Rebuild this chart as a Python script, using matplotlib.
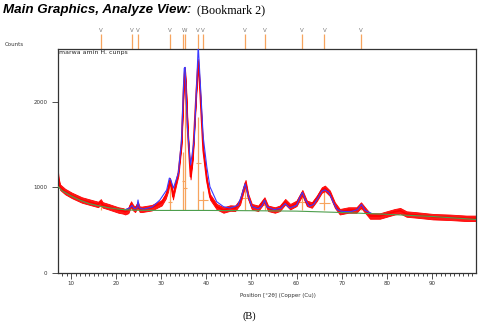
import matplotlib
matplotlib.use("Agg")
import matplotlib.pyplot as plt
import matplotlib.transforms as mtransforms
import numpy as np

scan_x = [7.1, 7.3, 7.6, 8.7, 10.2, 12.4, 14.6, 16.0, 16.6, 17.0, 18.3, 20.5, 21.5, 22.0,
          22.7, 23.3, 23.8, 24.2, 24.8, 25.2, 25.7, 27.9, 30.1, 31.0, 31.5, 31.9, 32.3,
          32.6, 33.1, 33.8, 34.5, 35.0, 35.25, 35.5, 35.9, 36.5, 37.0, 37.8, 38.2, 38.6,
          39.3, 40.1, 40.8, 42.3, 43.8, 45.3, 46.4, 47.5, 48.2, 48.7, 49.3, 50.1, 51.5,
          52.9, 53.7, 55.2, 56.3, 57.5, 58.6, 60.0, 61.3, 62.3, 63.4, 64.5, 65.6, 66.3,
          67.4, 68.5, 69.6, 71.5, 73.3, 74.3, 75.2, 76.3, 78.5, 80.0, 81.8, 83.0, 84.4,
          86.7, 90.3, 94.0, 97.7, 99.8]
scan_y = [1150, 1060, 1000, 950, 905, 852, 820, 800, 830, 795, 774, 735, 725, 715,
          730, 805, 760, 743, 800, 745, 743, 762, 820, 900, 980, 1080, 1000,
          890, 1010, 1167, 1510, 2200, 2370, 2150, 1630, 1124, 1355, 2135, 2466, 2135,
          1435, 1085, 890, 774, 735, 758, 755, 832, 968, 1054, 890, 774, 755,
          852, 755, 735, 755, 832, 774, 813, 937, 813, 793, 871, 968, 988,
          930, 793, 715, 735, 735, 793, 735, 665, 665, 688, 715, 727, 688,
          677, 657, 650, 638, 638]
noise = 32  # half height of the counting-noise band, counts

# calculated profile (blue)
calc_x = [22.0, 23.0, 23.5, 24.0, 24.6, 24.85, 25.1, 26.0, 28.0, 29.7, 31.2, 31.8, 32.1,
          32.7, 33.8, 34.5, 35.1, 35.3, 35.8, 36.5, 37.3, 37.9, 38.2, 38.75, 39.3, 40.1,
          40.8, 42.3, 43.8, 45.3, 47.0, 47.8, 48.6, 49.3, 50.1, 51.5, 52.3, 52.9, 53.5,
          55.0, 56.5, 57.5, 58.5, 60.0, 60.7, 61.3, 62.0, 62.8, 63.8, 64.8, 65.6, 66.3,
          67.2, 68.2, 69.0, 70.0, 72.0, 73.5, 74.4, 75.2, 76.5]
calc_y = [738, 760, 790, 750, 760, 852, 760, 745, 770, 852, 968, 1108, 1090,
          990, 1167, 1550, 2390, 2400, 1700, 1260, 1550, 2250, 2660, 2135, 1590, 1240,
          1007, 832, 774, 758, 790, 900, 1040, 900, 775, 750, 780, 850, 770,
          740, 755, 810, 760, 790, 880, 940, 850, 780, 800, 880, 955, 970,
          940, 820, 740, 720, 715, 740, 800, 730, 700]

# background (green)
bg_x = [7.1, 8.0, 10.0, 12.0, 14.0, 16.0, 18.0, 20.0, 22.0, 24.0, 30.0, 40.0, 50.0,
        60.0, 70.0, 80.0, 90.0, 99.8]
bg_y = [1010, 960, 900, 850, 810, 785, 765, 748, 738, 733, 730, 730, 727,
        722, 706, 685, 660, 625]

# reference peak list
peak_pos = [16.65, 23.46, 24.9, 31.95, 34.9, 35.3, 38.2, 39.3, 48.6, 53.0, 61.2, 66.2, 74.3]
peak_top = [820, 790, 830, 1085, 1415, 2350, 1820, 960, 1050, 830, 930, 990, 790]
peak_half = [780, 760, 780, 832, 1073, 995, 1280, 852, 871, 790, 830, 815, 760]
peak_fwhm = [0.6, 0.6, 0.5, 0.9, 0.8, 0.9, 1.2, 2.2, 1.4, 0.9, 1.3, 2.6, 0.9]
stick_base = 730
# marker letters above the frame (the 34.9/35.3 pair reads as one "W")
label_pos = [16.65, 23.46, 24.9, 31.95, 35.1, 38.2, 39.3, 48.6, 53.0, 61.2, 66.2, 74.3]
label_txt = ["V", "V", "V", "V", "W", "V", "V", "V", "V", "V", "V", "V"]

fig = plt.figure(figsize=(4.8, 3.24), dpi=100)
ax = fig.add_axes([0.1208, 0.1574, 0.8708, 0.6914])

orange = "#f7a45e"

# sticks + half-width marks
ax.vlines(peak_pos, stick_base, peak_top, color=orange, lw=0.9, zorder=1)
for p, h, w in zip(peak_pos, peak_half, peak_fwhm):
    ax.hlines(h, p - w / 2, p + w / 2, color=orange, lw=0.8, zorder=1)

# noisy scan: a band around the read centre line, with a rough outline
sy = np.array(scan_y)
band = ax.fill_between(scan_x, sy - noise, sy + noise, color="#ff1a1a", lw=0.6,
                       edgecolor="#ff0000", zorder=2)
band.set_sketch_params(scale=1.6, length=0.8, randomness=4)
ax.plot(scan_x, scan_y, color="#ff0000", lw=1.2, zorder=2)
ax.plot(calc_x, calc_y, color="#3a3aff", lw=0.8, zorder=3)
ax.plot(bg_x, bg_y, color="#4d9e4d", lw=0.8, zorder=4)

ax.set_xlim(7.1, 99.8)
ax.set_ylim(0, 2614)
ax.set_xticks(range(10, 100, 10))
ax.set_xticks(range(8, 100), minor=True)
ax.set_yticks([0, 1000, 2000])
ax.tick_params(labelsize=4, colors="#333333", length=4, width=0.6, pad=3.5)
ax.tick_params(which="minor", length=2, width=0.5)
ax.tick_params(axis="x", pad=2)
for s in ax.spines.values():
    s.set_linewidth(0.9)
    s.set_color("#333333")

# peak markers above the frame
trans = mtransforms.blended_transform_factory(ax.transData, ax.transAxes)
ax.vlines(peak_pos, 1.0, 1.068, color=orange, lw=0.9, transform=trans, clip_on=False)
for p, t in zip(label_pos, label_txt):
    ax.text(p, 1.082, t, transform=trans, ha="center", va="center",
            fontsize=4, color="#777777", clip_on=False)

ax.text(0.003, 0.995, "marwa amin H. cunps", transform=ax.transAxes,
        ha="left", va="top", fontsize=4.5, color="#222222")

fig.text(5 / 480, 1 - 44 / 324, "Counts", fontsize=4, color="#333333",
         ha="left", va="center")
fig.text(278 / 480, 1 - 296 / 324, "Position [°2θ] (Copper (Cu))", fontsize=4,
         color="#333333", ha="center", va="center")

fig.text(3 / 480, 1 - 13 / 324, "Main Graphics, Analyze View:",
         family="Liberation Sans", weight="bold", style="italic", fontsize=9.6,
         ha="left", va="baseline")
fig.text(197 / 480, 1 - 13 / 324, "(Bookmark 2)", family="Liberation Serif",
         fontsize=8.7, ha="left", va="baseline")
fig.text(249 / 480, 1 - 316.5 / 324, "(B)", family="Liberation Serif",
         fontsize=7.5, ha="center", va="center")

fig.savefig("out.png", dpi=100)
